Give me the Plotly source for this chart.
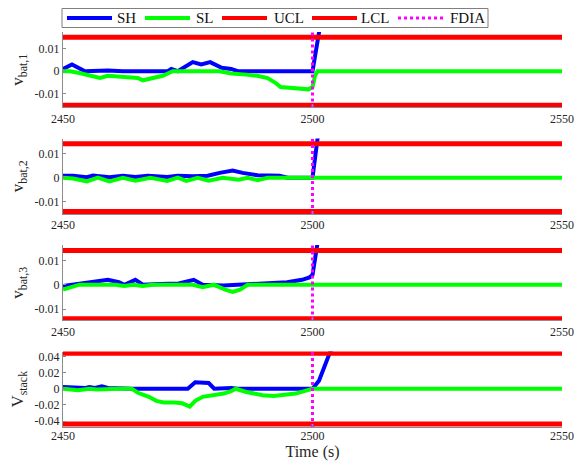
import plotly.graph_objects as go
from plotly.subplots import make_subplots

# ---------------- data ----------------
# Subplot 1: v_bat,1
t1_sh = [2450, 2451.8, 2454.4, 2459, 2462, 2471, 2471.7, 2473, 2476, 2477.7, 2479.5, 2481.8, 2483.7, 2485, 2500, 2501.3, 2502.5]
v1_sh = [0.001, 0.003, 0.0, 0.0003, 0.0, 0.0, 0.001, 0.0, 0.004, 0.003, 0.004, 0.0015, 0.001, 0.0, 0.0, 0.017, 0.03]
t1_sl = [2450, 2451.5, 2453.7, 2457.4, 2459, 2462.7, 2465, 2466, 2468, 2470, 2471, 2472, 2481.4, 2483.7, 2486.7, 2488.9, 2491, 2492.5, 2493.6, 2496.2, 2499.2, 2500, 2500.5, 2501, 2550]
v1_sl = [0.0, 0.0, -0.001, -0.003, -0.002, -0.0025, -0.003, -0.004, -0.003, -0.002, -0.001, 0.0, 0.0, -0.001, -0.0015, -0.002, -0.003, -0.005, -0.007, -0.0075, -0.008, -0.007, -0.002, 0.0, 0.0]

# Subplot 2: v_bat,2
t2_sh = [2450, 2452, 2454.8, 2456, 2459.3, 2462, 2464.5, 2467, 2470.9, 2473, 2476, 2479, 2481.4, 2484, 2486, 2489, 2493.4, 2495, 2500, 2501, 2502.5]
v2_sh = [0.0008, 0.0008, 0.0002, 0.0009, 0.0002, 0.0008, 0.0003, 0.0008, 0.0003, 0.0008, 0.0006, 0.0008, 0.002, 0.003, 0.002, 0.001, 0.0008, 0.0, 0.0, 0.016, 0.03]
t2_sl = [2450, 2452, 2454.8, 2457, 2459.3, 2462, 2464.5, 2467.5, 2470.9, 2473, 2474.7, 2477, 2479.2, 2482, 2485.2, 2487, 2489, 2491, 2550]
v2_sl = [0.0, -0.0003, -0.0015, 0.0, -0.0015, 0.0, -0.0012, 0.0, -0.0013, 0.0, -0.0013, 0.0, -0.0012, 0.0, -0.0008, 0.0, -0.001, 0.0, 0.0]

# Subplot 3: v_bat,3
t3_sh = [2450, 2453.3, 2456, 2459, 2461.2, 2462.3, 2464.5, 2466, 2469.4, 2473.2, 2476.2, 2478, 2482.2, 2485.9, 2489.7, 2494.9, 2497.9, 2499.4, 2500, 2500.9, 2502]
v3_sh = [-0.0005, 0.0005, 0.001, 0.002, 0.001, 0.0, 0.002, 0.0, 0.0003, 0.0005, 0.002, 0.0, -0.0003, 0.0, 0.0005, 0.001, 0.002, 0.003, 0.004, 0.016, 0.03]
t3_sl = [2450, 2451.8, 2453.3, 2460.5, 2462.3, 2464, 2466, 2468, 2476, 2478, 2480.2, 2482.5, 2484, 2485.5, 2487, 2550]
v3_sl = [-0.002, -0.001, 0.0, 0.0, -0.0005, 0.0, -0.0005, 0.0, 0.0, -0.001, 0.0, -0.002, -0.003, -0.002, 0.0, 0.0]

# Subplot 4: V_stack
t4_sh = [2450, 2452.2, 2454.5, 2455.3, 2456.4, 2457.8, 2459, 2463.8, 2475, 2476.5, 2479.2, 2480.3, 2483.7, 2485, 2500, 2501.3, 2503.5, 2505]
v4_sh = [0.002, 0.001, 0.001, 0.002, 0.001, 0.003, 0.001, 0.0, 0.0, 0.008, 0.007, 0.0, 0.001, 0.0, 0.0, 0.01, 0.045, 0.06]
t4_sl = [2450, 2453, 2455.3, 2456.8, 2461.2, 2463.8, 2465, 2467.2, 2468.7, 2470.2, 2472.4, 2473.9, 2475.4, 2476.5, 2478, 2480.7, 2482.2, 2483.7, 2484.6, 2486.7, 2487.5, 2490, 2492.2, 2494.4, 2496.6, 2498.9, 2500, 2550]
v4_sl = [0.0, -0.002, 0.0, -0.001, 0.0, 0.0, -0.005, -0.01, -0.015, -0.017, -0.017, -0.018, -0.022, -0.015, -0.01, -0.007, -0.006, -0.003, 0.0, -0.004, -0.005, -0.008, -0.009, -0.008, -0.006, -0.002, 0.0, 0.0]

ucl = [0.015, 0.014, 0.014, 0.0437]
lcl = [-0.015, -0.014, -0.014, -0.0437]
x_limits = [2450, 2550]
fdia_t = 2500
y_ranges = [[-0.016, 0.0173], [-0.015, 0.0162], [-0.0147, 0.0163], [-0.0473, 0.046]]
y_titles = ["v<sub>bat,1</sub>", "v<sub>bat,2</sub>", "v<sub>bat,3</sub>", "V<sub>stack</sub>"]
y_tickvals = [[-0.01, 0, 0.01], [-0.01, 0, 0.01], [-0.01, 0, 0.01], [-0.04, -0.02, 0, 0.02, 0.04]]
y_ticktext = [["-0.01", "0", "0.01"], ["-0.01", "0", "0.01"], ["-0.01", "0", "0.01"], ["-0.04", "-0.02", "0", "0.02", "0.04"]]
x_tickvals = [2450, 2500, 2550]

series_names = ["SH", "SL", "UCL", "LCL", "FDIA"]
series_colors = ["#0000ff", "#00ff00", "#ff0000", "#ff0000", "#ff00ff"]
series_widths = [4, 4, 5, 5, 3]
series_dash = ["solid", "solid", "solid", "solid", "dot"]

sh_t = [t1_sh, t2_sh, t3_sh, t4_sh]
sh_v = [v1_sh, v2_sh, v3_sh, v4_sh]
sl_t = [t1_sl, t2_sl, t3_sl, t4_sl]
sl_v = [v1_sl, v2_sl, v3_sl, v4_sl]

FONT = "Liberation Serif"
TXT = "#262626"
AX = "#8c8c8c"

# figure geometry (figure pixels); the page body adds an 8 px offset
FIG_W, FIG_H = 577, 453
M_L, M_R, M_T, M_B = 55, 23, 24, 34
PLOT_W = FIG_W - M_L - M_R
PLOT_H = FIG_H - M_T - M_B


def px(fx):
    return (fx - M_L) / PLOT_W


def py(fy):
    return (FIG_H - M_B - fy) / PLOT_H


fig = make_subplots(rows=4, cols=1, vertical_spacing=0.0785)

for i in range(4):
    r = i + 1
    line_sets = [
        (sh_t[i], sh_v[i]),
        (sl_t[i], sl_v[i]),
        (x_limits, [ucl[i], ucl[i]]),
        (x_limits, [lcl[i], lcl[i]]),
        ([fdia_t, fdia_t], y_ranges[i]),
    ]
    for k, (xs, ys) in enumerate(line_sets):
        fig.add_trace(go.Scatter(x=xs, y=ys, mode="lines", name=series_names[k],
                                 line=dict(color=series_colors[k], width=series_widths[k], dash=series_dash[k]),
                                 showlegend=False), row=r, col=1)
    fig.update_xaxes(range=x_limits, tickvals=x_tickvals, ticktext=[str(v) for v in x_tickvals],
                     showline=True, linecolor=AX, linewidth=1, mirror=False,
                     ticks="inside", ticklen=3, tickcolor=AX, automargin=False,
                     showgrid=False, zeroline=False,
                     tickfont=dict(family=FONT, size=12, color=TXT), row=r, col=1)
    fig.update_yaxes(range=y_ranges[i], tickvals=y_tickvals[i], ticktext=y_ticktext[i],
                     showline=True, linecolor=AX, linewidth=1,
                     ticks="inside", ticklen=3, tickcolor=AX, automargin=False,
                     showgrid=False, zeroline=False,
                     title=dict(text=y_titles[i], font=dict(family=FONT, size=17, color=TXT), standoff=6),
                     tickfont=dict(family=FONT, size=12, color=TXT), row=r, col=1)

fig.update_xaxes(title=dict(text="Time (s)", font=dict(family=FONT, size=16, color=TXT)),
                 ticklabelstandoff=-2, row=4, col=1)

# ---- legend box drawn like the original (MATLAB-style, one row above the first panel) ----
leg_box = (54, 0.5, 480, 19.5)          # left, top, right, bottom in figure px
leg_y = 10
leg_line_x = [59, 137, 214, 304, 390]  # start of each sample line
leg_line_len = 45
leg_text_x = [107, 186, 264, 351, 440]

shapes = [dict(type="rect", xref="paper", yref="paper",
               x0=px(leg_box[0]), x1=px(leg_box[2]), y0=py(leg_box[3]), y1=py(leg_box[1]),
               line=dict(color="#7f7f7f", width=1), fillcolor="white", layer="above")]
annotations = []
for k in range(5):
    shapes.append(dict(type="line", xref="paper", yref="paper",
                       x0=px(leg_line_x[k]), x1=px(leg_line_x[k] + leg_line_len),
                       y0=py(leg_y), y1=py(leg_y),
                       line=dict(color=series_colors[k], width=4 if k < 4 else 3,
                                 dash=series_dash[k])))
    annotations.append(dict(text=series_names[k], xref="paper", yref="paper",
                            x=px(leg_text_x[k]), y=py(leg_y), xanchor="left", yanchor="middle",
                            showarrow=False, font=dict(family=FONT, size=15, color="#111111")))

fig.update_layout(
    width=FIG_W, height=FIG_H,
    margin=dict(l=M_L, r=M_R, t=M_T, b=M_B, autoexpand=False),
    paper_bgcolor="white", plot_bgcolor="white",
    font=dict(family=FONT, color=TXT),
    showlegend=False,
    shapes=shapes,
    annotations=annotations,
)

fig.write_html("out.html")
